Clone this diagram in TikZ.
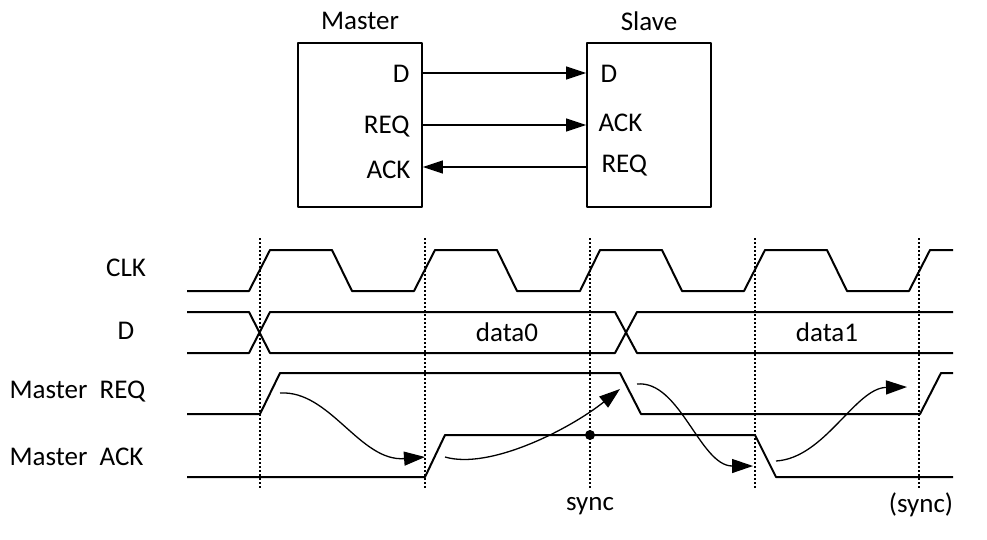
\documentclass[tikz,border=0pt]{standalone}
\usepackage{fontspec}
\setmainfont{Carlito}
\usetikzlibrary{arrows.meta}

\begin{document}
\begin{tikzpicture}[line join=round,x=1pt,y=-1pt,font=\fontsize{27}{31}\selectfont,
    blockbox/.style={draw,line width=1.8pt,minimum width=124pt,minimum height=164pt,inner sep=0pt},
    sig/.style={line width=2pt},
    tick/.style={line width=1.3pt,dash pattern=on 2pt off 2pt},
    link/.style={line width=1.5pt,-{Triangle[length=20pt,width=13pt]}},
    flow/.style={line width=1.3pt,-{Triangle[length=21pt,width=14pt]}}]
    \useasboundingbox (0,0) rectangle (987,539);
    % blocks
    \node[blockbox] (master) at (360,125) {};
    \node[blockbox] (slave) at (649,125) {};
    \node (masterlbl) at (360,21) {Master};
    \node (slavelbl) at (649,21) {Slave};
    \node[anchor=east] (mD) at (413,74) {D};
    \node[anchor=east] (mREQ) at (413,127) {REQ};
    \node[anchor=east] (mACK) at (414,170) {ACK};
    \node[anchor=west] (sD) at (597,74) {D};
    \node[anchor=west] (sACK) at (595,123) {ACK};
    \node[anchor=west] (sREQ) at (598,166) {REQ};
    \draw[link] (master.east |- 0,73) -- (slave.west |- 0,73);
    \draw[link] (master.east |- 0,125) -- (slave.west |- 0,125);
    \draw[link] (slave.west |- 0,167) -- (master.east |- 0,167);

    % signal names
    \node (lclk) at (126,268) {CLK};
    \node (ld) at (126,331) {D};
    \node[anchor=west] (lreq) at (6,392) {Master\ \ REQ};
    \node[anchor=west] (lack) at (6,457) {Master\ \ ACK};

    % clock edges
    \foreach \t in {260,425,590,755,919}
        \draw[tick] (\t,238) -- (\t,488);

    % CLK
    \draw[sig] (187,291) -- (249,291) -- (270,250) -- (332,250) -- (352,291) -- (414,291) -- (435,250) -- (497,250) -- (517,291)
        -- (580,291) -- (600,250) -- (662,250) -- (682,291) -- (744,291) -- (765,250) -- (827,250) -- (847,291) -- (909,291)
        -- (930,250) -- (953,250);
    % D
    \draw[sig] (187,312) -- (249,312) -- (270,353) -- (615,353) -- (637,312) -- (953,312);
    \draw[sig] (187,353) -- (249,353) -- (270,312) -- (615,312) -- (637,353) -- (953,353);
    \node (data0) at (507,332) {data0};
    \node (data1) at (827,332) {data1};
    % REQ
    \draw[sig] (187,414) -- (260,414) -- (280,373) -- (620,373) -- (641,414) -- (920,414) -- (941,373) -- (953,373);
    % ACK
    \draw[sig] (187,477) -- (425,477) -- (445,435) -- (755,435) -- (776,477) -- (953,477);
    \node[circle,fill,inner sep=0pt,minimum size=10pt] (syncdot) at (590,435) {};

    % handshake
    \coordinate (h1) at (280,393);
    \coordinate (h2) at (425,457);
    \coordinate (h3) at (445,457);
    \coordinate (h4) at (620,389);
    \coordinate (h5) at (637,384);
    \coordinate (h6) at (753,466);
    \coordinate (h7) at (776,461);
    \coordinate (h8) at (907,387);
    \draw[flow] (h1) .. controls +(50,-3) and +(-65,5) .. (h2);
    \draw[flow] (h3) .. controls +(45,13) and +(-50,40) .. (h4);
    \draw[flow] (h5) .. controls +(43,-4) and +(-53,0) .. (h6);
    \draw[flow] (h7) .. controls +(49,-3) and +(-52,1) .. (h8);

    \node (sync) at (590,506) {sync};
    \node (sync2) at (921,505) {(sync)};
\end{tikzpicture}
\end{document}
